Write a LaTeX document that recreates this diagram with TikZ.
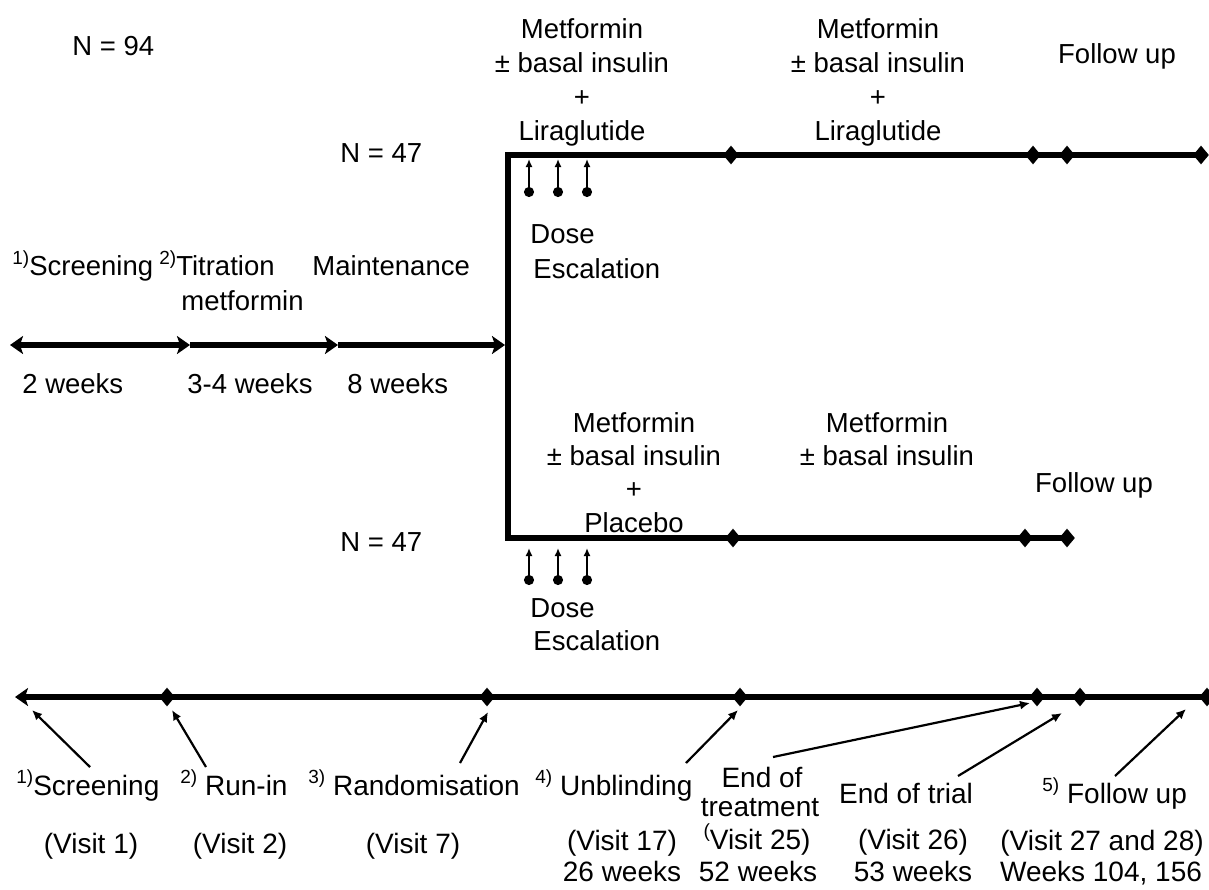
\documentclass[tikz,border=0pt]{standalone}
\usepackage{fontspec}
\setmainfont{Liberation Sans}
\usetikzlibrary{arrows.meta,shapes.geometric}

\newcommand{\topfont}{\fontsize{13.75pt}{16pt}\selectfont}
\newcommand{\lowfont}{\fontsize{14pt}{17pt}\selectfont}
\newcommand{\fnote}[1]{\raisebox{0.4em}{\fontsize{9.5pt}{9.5pt}\selectfont #1}}

\begin{document}
\begin{tikzpicture}[x=0.5pt,y=-0.5pt,
    txt/.style={anchor=base,inner sep=0pt,font=\topfont},
    low/.style={anchor=base,inner sep=0pt,font=\lowfont},
    arm/.style={line width=3pt},
    visit/.style={diamond,fill=black,inner sep=0pt,minimum width=8pt,minimum height=9.5pt},
    lhead/.tip={Stealth[length=6.5pt,width=9pt,inset=1.5pt]},
    pointer/.style={line width=1.1pt,-{Latex[length=5pt,width=4.5pt]}},
    dose/.style={line width=1pt,{Circle[length=5pt]}-{Latex[length=4pt,width=3.5pt]}}]
  \useasboundingbox (0,0) rectangle (1209,889);

  % run-in timeline
  \coordinate (s0) at (10,345);
  \coordinate (s1) at (190,345);
  \coordinate (s2) at (338,345);
  \coordinate (s3) at (505,345);
  \draw[arm,lhead-lhead] (s0) -- (s1);
  \draw[arm,-lhead] (s1) -- (s2);
  \draw[arm,-lhead] (s2) -- (s3);

  \node[txt,anchor=base west] (n94) at (72,55) {N = 94};
  \node[txt,anchor=base west] (scr) at (12,275) {\fnote{1)}Screening};
  \node[txt,anchor=base west] (tit) at (159,275) {\fnote{2)}Titration};
  \node[txt,anchor=base west] (met) at (181,310) {metformin};
  \node[txt,anchor=base west] (mai) at (312,275) {Maintenance};
  \node[txt,anchor=base west] (w2) at (22,393) {2 weeks};
  \node[txt,anchor=base west] (w34) at (187,393) {3-4 weeks};
  \node[txt,anchor=base west] (w8) at (347,393) {8 weeks};

  % the two arms
  \coordinate (topL) at (508,155);
  \coordinate (topR) at (1201,155);
  \coordinate (botL) at (508,538);
  \coordinate (botR) at (1067,538);
  \draw[arm] (topR) -- (topL) -- (botL) -- (botR);

  \foreach \x [count=\i] in {731,1033,1067,1201}
    \node[visit] (ta\i) at (\x,155) {};
  \foreach \x [count=\i] in {733,1025,1067}
    \node[visit] (pa\i) at (\x,538) {};

  \node[txt,anchor=base west] (n47a) at (340,162) {N = 47};
  \node[txt,anchor=base west] (n47b) at (340,551) {N = 47};

  \foreach \t [count=\i] in {Metformin, ± basal insulin, +, Liraglutide}
    \node[txt] (lira\i) at (582,4+34*\i) {\t};
  \foreach \t [count=\i] in {Metformin, ± basal insulin, +, Liraglutide}
    \node[txt] (lirb\i) at (878,4+34*\i) {\t};
  \node[txt] (fua) at (1117,63) {Follow up};

  \foreach \t [count=\i] in {Metformin, ± basal insulin, +, Placebo}
    \node[txt] (plaa\i) at (634,399+33.3*\i) {\t};
  \foreach \t [count=\i] in {Metformin, ± basal insulin}
    \node[txt] (plab\i) at (887,399+33.3*\i) {\t};
  \node[txt] (fub) at (1094,492) {Follow up};

  % dose escalation
  \foreach \x in {529,558,587}
    {
      \coordinate (da\x) at (\x,197);
      \coordinate (db\x) at (\x,159);
      \draw[dose] (da\x) -- (db\x);
      \coordinate (dc\x) at (\x,585);
      \coordinate (dd\x) at (\x,548);
      \draw[dose] (dc\x) -- (dd\x);
    }
  \node[txt,anchor=base west] (dosa) at (530,243) {Dose};
  \node[txt,anchor=base west] (esca) at (533,278) {Escalation};
  \node[txt,anchor=base west] (dosb) at (530,617) {Dose};
  \node[txt,anchor=base west] (escb) at (533,650) {Escalation};

  % visit timeline
  \coordinate (v0) at (15,697);
  \coordinate (v7) at (1209,697);
  \draw[arm,lhead-] (v0) -- (v7);
  \foreach \x [count=\i] in {167,487,740,1037,1080,1207}
    \node[visit] (v\i) at (\x,697) {};

  \node[low,anchor=base west] (l1) at (16,795) {\fnote{1)}Screening};
  \node[low,anchor=base west] (l2) at (180,795) {\fnote{2)} Run-in};
  \node[low,anchor=base west] (l3) at (308,795) {\fnote{3)} Randomisation};
  \node[low,anchor=base west] (l4) at (535,795) {\fnote{4)} Unblinding};
  \node[low] (l5a) at (762,787) {End of};
  \node[low] (l5b) at (760,816) {treatment};
  \node[low] (l6) at (906,803) {End of trial};
  \node[low,anchor=base west] (l7) at (1042,803) {\fnote{5)} Follow up};

  \foreach \t/\x/\y [count=\i] in {(Visit 1)/91/853, (Visit 2)/240/853, (Visit 7)/413/853,
      (Visit 17)/622/850, \fnote{(}Visit 25)/757/849, (Visit 26)/913/849, (Visit 27 and 28)/1102/850}
    \node[low] (vis\i) at (\x,\y) {\t};
  \foreach \t/\x [count=\i] in {26 weeks/622, 52 weeks/758, 53 weeks/913, {Weeks 104, 156}/1101}
    \node[low] (wk\i) at (\x,881) {\t};

  % pointers from the labels to the timeline
  \foreach \a/\b/\c/\d [count=\i] in {90/767/32/710, 206/767/172/710, 460/763/488/712,
      686/763/738/710, 773/757/1030/703, 958/776/1062/713, 1115/776/1186/709}
    {
      \coordinate (from\i) at (\a,\b);
      \coordinate (to\i) at (\c,\d);
      \draw[pointer] (from\i) -- (to\i);
    }
\end{tikzpicture}
\end{document}
